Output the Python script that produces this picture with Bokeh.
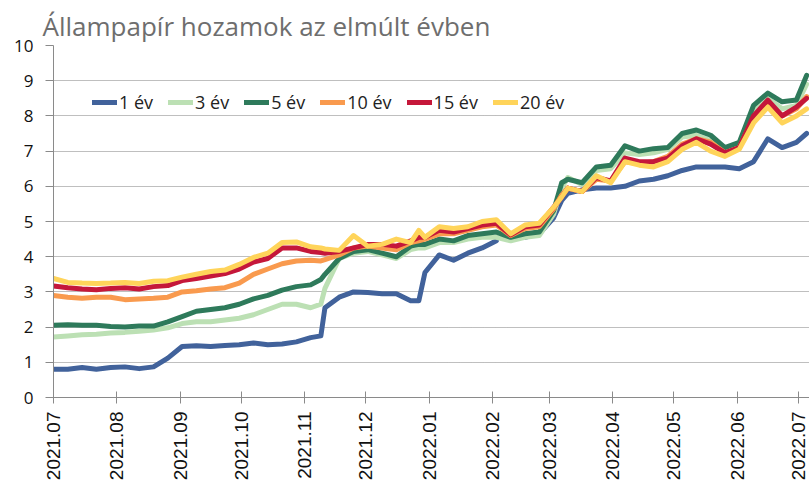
import math
import numpy as np
import pandas as pd
from bokeh.plotting import figure
from bokeh.models import (Range1d, FixedTicker, DatetimeTickFormatter, Legend,
                          LegendItem, ColumnDataSource)
from bokeh.embed import file_html
from bokeh.resources import INLINE

nan = float("nan")

dates = ["2021-07-01", "2021-07-08", "2021-07-15", "2021-07-22", "2021-07-29",
         "2021-08-05", "2021-08-12", "2021-08-19", "2021-08-26", "2021-09-02",
         "2021-09-09", "2021-09-16", "2021-09-23", "2021-09-30", "2021-10-07",
         "2021-10-14", "2021-10-21", "2021-10-28", "2021-11-04", "2021-11-09",
         "2021-11-11", "2021-11-18", "2021-11-25", "2021-12-02", "2021-12-09",
         "2021-12-16", "2021-12-23", "2021-12-27", "2021-12-30", "2022-01-06",
         "2022-01-13", "2022-01-20", "2022-01-27", "2022-02-03", "2022-02-10",
         "2022-02-17", "2022-02-24", "2022-03-03", "2022-03-07", "2022-03-10",
         "2022-03-17", "2022-03-24", "2022-03-31", "2022-04-07", "2022-04-14",
         "2022-04-21", "2022-04-28", "2022-05-05", "2022-05-12", "2022-05-19",
         "2022-05-26", "2022-06-02", "2022-06-09", "2022-06-16", "2022-06-23",
         "2022-06-30", "2022-07-05"]

ev1 = [0.80, 0.80, 0.85, 0.80, 0.85, 0.87, 0.82, 0.87, 1.12, 1.45,
       1.47, 1.45, 1.48, 1.50, 1.55, 1.50, 1.52, 1.58, 1.70, 1.75,
       2.55, 2.85, 3.00, 2.98, 2.95, 2.95, 2.75, 2.75, 3.55, 4.05,
       3.90, 4.10, 4.25, 4.45, nan, 4.55, 4.65, 5.10, 5.60, 5.80,
       5.90, 5.95, 5.95, 6.00, 6.15, 6.20, 6.30, 6.45, 6.55, 6.55,
       6.55, 6.50, 6.70, 7.35, 7.10, 7.25, 7.50]

ev3 = [1.72, 1.75, 1.78, 1.80, 1.83, 1.85, 1.88, 1.92, 1.98, 2.10,
       2.15, 2.15, 2.20, 2.25, 2.35, 2.50, 2.65, 2.65, 2.55, 2.65,
       3.10, 3.95, 4.10, 4.15, 4.05, 3.95, 4.20, 4.25, 4.25, 4.40,
       4.40, 4.50, 4.55, 4.55, 4.45, 4.55, 4.60, 5.20, 5.95, 6.25,
       6.05, 6.45, 6.50, 6.95, 6.90, 6.95, 7.05, 7.40, 7.45, 7.30,
       7.05, 7.15, 8.20, 8.50, 8.20, 8.30, 8.90]

ev5 = [2.05, 2.07, 2.05, 2.05, 2.02, 2.00, 2.03, 2.03, 2.15, 2.30,
       2.45, 2.50, 2.55, 2.65, 2.80, 2.90, 3.05, 3.15, 3.20, 3.35,
       3.50, 3.95, 4.15, 4.20, 4.10, 4.00, 4.30, 4.35, 4.35, 4.50,
       4.45, 4.60, 4.65, 4.70, 4.55, 4.65, 4.70, 5.30, 6.10, 6.20,
       6.10, 6.55, 6.60, 7.15, 7.00, 7.07, 7.10, 7.50, 7.60, 7.45,
       7.10, 7.25, 8.30, 8.65, 8.40, 8.45, 9.15]

ev10 = [2.90, 2.85, 2.82, 2.85, 2.85, 2.78, 2.80, 2.82, 2.85, 3.00,
        3.03, 3.08, 3.12, 3.25, 3.50, 3.65, 3.80, 3.88, 3.90, 3.88,
        3.92, 4.05, 4.25, 4.30, 4.25, 4.20, 4.40, 4.45, 4.50, 4.65,
        4.65, 4.75, 4.85, 4.90, 4.60, 4.80, 4.85, 5.35, 5.75, 5.95,
        5.85, 6.20, 6.15, 6.70, 6.65, 6.70, 6.85, 7.20, 7.35, 7.25,
        6.95, 7.10, 7.95, 8.40, 8.00, 8.20, 8.55]

ev15 = [3.17, 3.12, 3.08, 3.06, 3.10, 3.12, 3.08, 3.15, 3.18, 3.32,
        3.38, 3.45, 3.52, 3.65, 3.85, 3.95, 4.25, 4.25, 4.15, 4.12,
        4.10, 4.15, 4.25, 4.35, 4.35, 4.30, 4.45, 4.55, 4.55, 4.75,
        4.70, 4.80, 4.90, 4.95, 4.62, 4.85, 4.90, 5.40, 5.70, 5.95,
        5.85, 6.25, 6.15, 6.80, 6.70, 6.70, 6.80, 7.15, 7.35, 7.20,
        6.95, 7.10, 8.00, 8.45, 8.00, 8.25, 8.50]

ev20 = [3.38, 3.27, 3.25, 3.24, 3.25, 3.27, 3.24, 3.30, 3.32, 3.42,
        3.50, 3.58, 3.62, 3.78, 3.98, 4.10, 4.40, 4.42, 4.28, 4.25,
        4.22, 4.18, 4.60, 4.30, 4.35, 4.50, 4.40, 4.75, 4.55, 4.85,
        4.80, 4.85, 5.00, 5.05, 4.65, 4.90, 4.95, 5.40, 5.70, 5.95,
        5.85, 6.30, 6.10, 6.70, 6.60, 6.55, 6.70, 7.05, 7.25, 7.00,
        6.85, 7.05, 7.80, 8.25, 7.80, 8.00, 8.20]

series_names = ["1 év", "3 év", "5 év", "10 év", "15 év", "20 év"]
series_values = [ev1, ev3, ev5, ev10, ev15, ev20]
colors = ["#41629B", "#BCE0B4", "#2E7A5B", "#F99A4E", "#C5173A", "#FFD45A"]

tick_labels = ["2021.07", "2021.08", "2021.09", "2021.10", "2021.11", "2021.12",
               "2022.01", "2022.02", "2022.03", "2022.04", "2022.05", "2022.06",
               "2022.07"]

title_text = "Állampapír hozamok az elmúlt évben"

x = pd.to_datetime(dates)
tick_ts = [pd.Timestamp(t.replace(".", "-") + "-01").value / 1e6 for t in tick_labels]

p = figure(width=809, height=485, x_axis_type="datetime",
           output_backend="svg", toolbar_location=None,
           x_range=Range1d(pd.Timestamp("2021-07-01"), pd.Timestamp("2022-07-06 10:00")),
           y_range=Range1d(0, 10),
           min_border_left=53, min_border_right=0, min_border_top=45,
           min_border_bottom=88)
p.outline_line_color = None
p.background_fill_color = "white"

p.title.text = title_text
p.title.text_font = "Open Sans"
p.title.text_font_size = "26px"
p.title.text_font_style = "normal"
p.title.text_color = "#6e6e6e"
p.title.align = "left"
p.title.offset = -11
p.title.standoff = 4

items = []
for name, vals, col in zip(series_names, series_values, colors):
    src = ColumnDataSource(dict(x=x, y=np.array(vals, dtype=float)))
    r = p.line("x", "y", source=src, line_color=col, line_width=5,
               line_join="round", line_cap="round")
    items.append(LegendItem(label=name, renderers=[r]))

legend = Legend(items=items, orientation="horizontal", location=(39, 283),
                glyph_width=25, glyph_height=20, label_standoff=2, spacing=15,
                padding=0, margin=0, border_line_color=None,
                background_fill_alpha=0, label_text_font="Open Sans",
                label_text_font_size="18px", label_text_color="#222222")
p.add_layout(legend)

p.xgrid.grid_line_color = None
p.ygrid.grid_line_color = "#7f7f7f"
p.ygrid.grid_line_dash = "1 1"
p.ygrid.grid_line_width = 1
p.ygrid.ticker = FixedTicker(ticks=list(range(0, 11)))

p.yaxis.ticker = FixedTicker(ticks=list(range(0, 11)))
p.yaxis.axis_line_color = "#8a8a8a"
p.yaxis.major_tick_line_color = "#8a8a8a"
p.yaxis.major_tick_out = 8
p.yaxis.major_tick_in = 0
p.yaxis.minor_tick_line_color = None
p.yaxis.major_label_text_font = "Open Sans"
p.yaxis.major_label_text_font_size = "17px"
p.yaxis.major_label_text_color = "#111111"
p.yaxis.major_label_standoff = 12

p.xaxis.ticker = FixedTicker(ticks=tick_ts)
fmt = "%Y.%m"
p.xaxis.formatter = DatetimeTickFormatter(months=fmt, days=fmt, years=fmt,
                                          hours=fmt, minutes=fmt, seconds=fmt,
                                          milliseconds=fmt, microseconds=fmt,
                                          hourmin=fmt, minsec=fmt)
p.xaxis.axis_line_color = "#8a8a8a"
p.xaxis.major_tick_line_color = "#8a8a8a"
p.xaxis.major_tick_out = 6
p.xaxis.major_tick_in = 6
p.xaxis.minor_tick_line_color = None
p.xaxis.major_label_orientation = math.pi / 2
p.xaxis.major_label_text_font = "Liberation Sans"
p.xaxis.major_label_text_font_size = "19px"
p.xaxis.major_label_text_color = "#111111"
p.xaxis.major_label_standoff = 8

open("out.html", "w").write(file_html(p, INLINE))
